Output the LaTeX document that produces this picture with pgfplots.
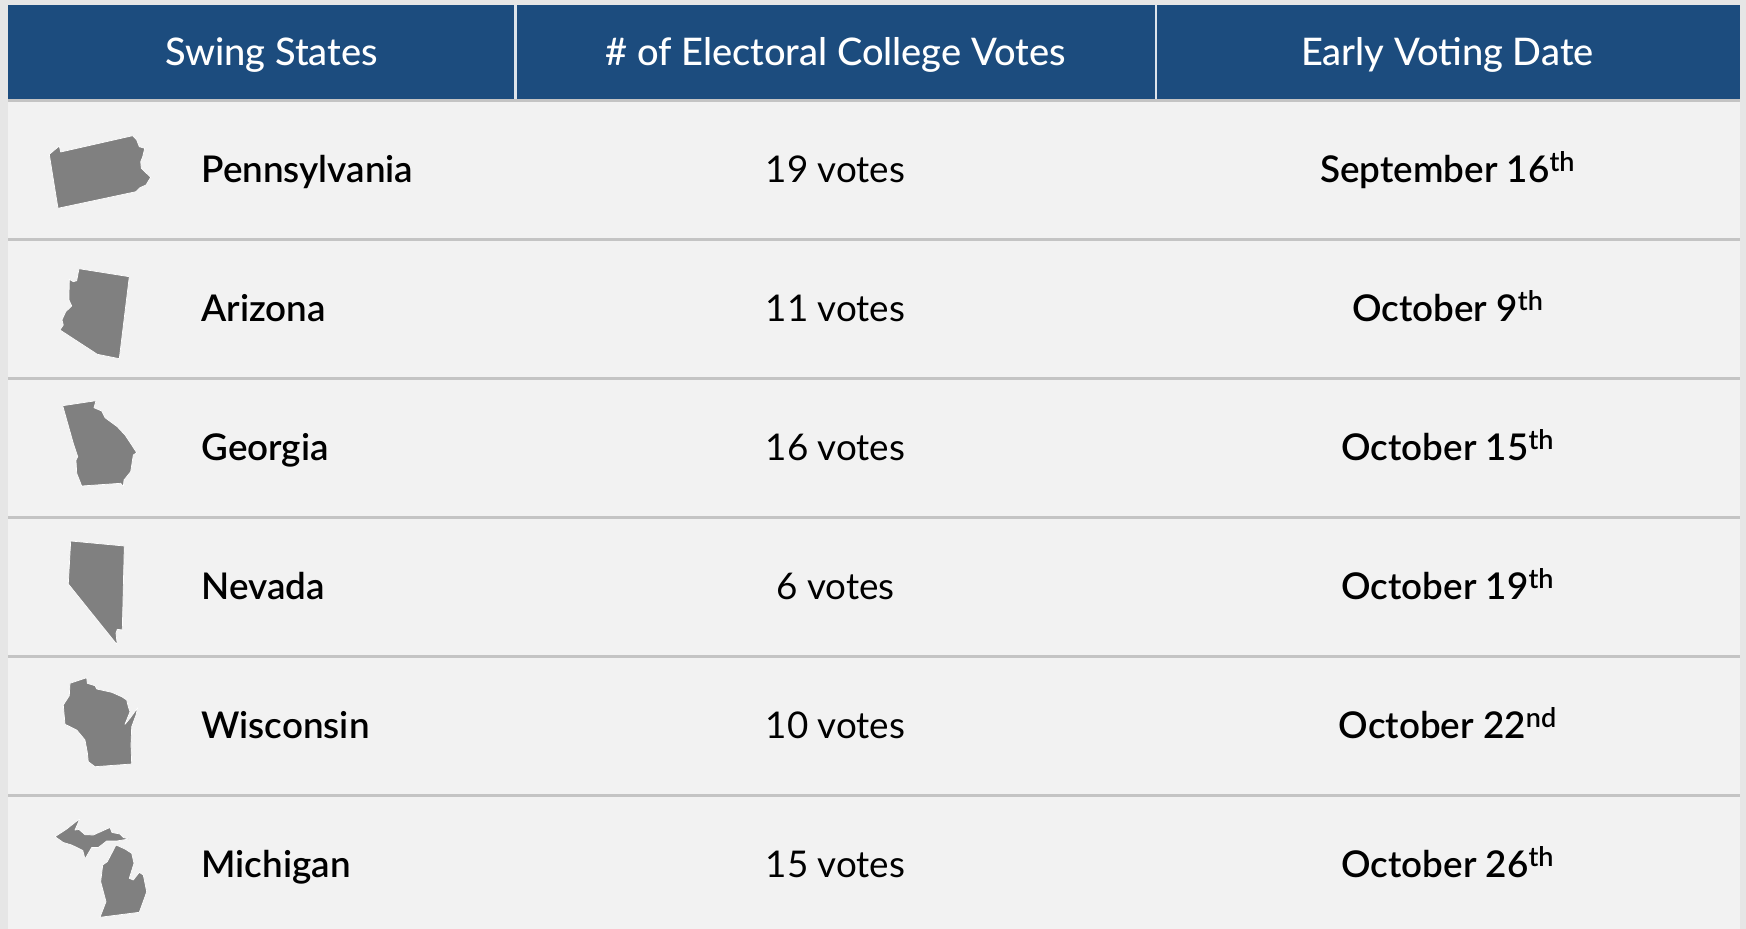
\documentclass[border=0pt]{standalone}
\usepackage{pgfplots}
\usepackage{fontspec}
\pgfplotsset{compat=1.18}
\setmainfont{Lato}
\newfontfamily\namefont{Lato Semibold}
\newfontfamily\headfont{Lato Medium}
\definecolor{headblue}{HTML}{1C4C7E}
\definecolor{pagegrey}{HTML}{E6E6E6}
\definecolor{rowgrey}{HTML}{F2F2F2}
\definecolor{rule}{HTML}{C4C4C4}
\definecolor{shape}{HTML}{808080}
\newcommand{\ord}[1]{\raisebox{0.3em}{\fontsize{13.5}{14}\selectfont #1}}
\pgfplotsset{state/.style={fill=shape,draw=white,line width=0.35pt,line join=round}}
\begin{document}
\begin{tikzpicture}
\begin{axis}[
  scale only axis, width=873pt, height=464.5pt,
  xmin=0, xmax=1746, ymin=0, ymax=929, y dir=reverse,
  axis lines=none, clip=true,
]
% page and table bands
\addplot[fill=pagegrey,draw=none] coordinates {(0,0)(1746,0)(1746,929)(0,929)} -- cycle;
\addplot[fill=rowgrey,draw=none] coordinates {(8,99)(1740,99)(1740,929)(8,929)} -- cycle;
\addplot[fill=headblue,draw=none] coordinates {(8,5)(1740,5)(1740,99)(8,99)} -- cycle;
% rules
\addplot[rule,line width=1.4pt] coordinates {(8,100.5)(1740,100.5)};
\addplot[rule,line width=1.4pt] coordinates {(8,239.7)(1740,239.7)};
\addplot[rule,line width=1.4pt] coordinates {(8,378.7)(1740,378.7)};
\addplot[rule,line width=1.4pt] coordinates {(8,517.7)(1740,517.7)};
\addplot[rule,line width=1.4pt] coordinates {(8,656.7)(1740,656.7)};
\addplot[rule,line width=1.4pt] coordinates {(8,795.7)(1740,795.7)};
\addplot[white!85!headblue,line width=1.2pt] coordinates {(515.5,5)(515.5,99)};
\addplot[white!85!headblue,line width=1.2pt] coordinates {(1156,5)(1156,99)};
% state outlines
\addplot[state] coordinates {(49.3,154.3)(59.3,146)(60.7,152)(132.7,135.7)(136.7,140)(139.3,146.7)(144.7,148.3)(142.7,156.7)(140.7,161.7)(141.3,168.3)(150.7,177.3)(146,185)(140,187.7)(136,191.7)(58,208.3)} -- cycle;
\addplot[state] coordinates {(79,268.7)(129.3,276.7)(119.3,358.7)(97.3,354.3)(60,330)(63.3,325)(62,320)(65.7,311.7)(71.7,306)(69,300)(69.3,279.3)(73.3,281.7)(76.7,280.7)} -- cycle;
\addplot[state] coordinates {(62.7,405.7)(96,400.7)(94,407.7)(101.7,411)(105,417.7)(117.3,426.7)(125,435)(131.7,445)(136.7,452.7)(133.3,455)(130.7,471.7)(124,480)(123.3,486.7)(120.7,483.3)(81.7,486)(76.7,473.3)(76,460)(77.7,456.7)(73.3,443.3)} -- cycle;
\addplot[state] coordinates {(70.7,541)(124.3,546)(122.3,630)(117.3,629.3)(116,633.3)(117.3,645)(68.3,584)} -- cycle;
\addplot[state] coordinates {(70,683.3)(86.7,677.7)(87.3,683.3)(95,685.7)(96.7,689)(111.7,692.3)(121.7,696.7)(126.7,700)(128.3,706.7)(130,711.7)(125,724.3)(130,718.3)(137.7,707.7)(136,715)(131.7,726.7)(131,745)(131.7,764)(95,766.7)(88.3,761.7)(87.3,752.3)(85,740)(76.7,730)(65,724.3)(63.3,705)(69.3,695.7)} -- cycle;
\addplot[state] coordinates {(55,836.7)(66.7,829)(80,818.5)(75,830)(79,829.5)(85,834.7)(93.3,835)(110,827.5)(112,832.5)(120,834)(123.3,837.5)(129,839)(116.7,841)(106.7,841)(98.3,847.5)(91.7,847.5)(85,859)(82.8,850.5)(71.7,845)(63.3,842.5)} -- cycle;
\addplot[state] coordinates {(116,845)(125,849)(131.7,853.3)(134,863.3)(129.3,878.3)(133.3,880)(139.3,872.3)(143.3,875)(146.7,891.7)(145,896.7)(139.3,912.3)(100,917.3)(106,901.7)(100.7,881.7)(102.7,865)(107.3,861.7)(111.7,853.3)} -- cycle;
% header
\begin{scope}[every node/.append style={font=\fontsize{19}{22}\selectfont}]
\node[anchor=base,white] at (axis cs:271.5,65.5) {\headfont Swing States};
\node[anchor=base,white] at (axis cs:835.5,65.5) {\headfont \# of Electoral College Votes};
\node[anchor=base,white] at (axis cs:1447.5,65.5) {\headfont Early Voting Date};
\end{scope}
\begin{scope}[every node/.append style={inner sep=0pt,font=\fontsize{18.4}{22}\selectfont}]
% state names
\node[anchor=base west] at (axis cs:201,182.5) {\namefont Pennsylvania};
\node[anchor=base west] at (axis cs:201,321.5) {\namefont Arizona};
\node[anchor=base west] at (axis cs:201,460.5) {\namefont Georgia};
\node[anchor=base west] at (axis cs:201,599.5) {\namefont Nevada};
\node[anchor=base west] at (axis cs:201,738.5) {\namefont Wisconsin};
\node[anchor=base west] at (axis cs:201,877.5) {\namefont Michigan};
% vote counts
\node[anchor=base] at (axis cs:835.5,182.5) {19 votes};
\node[anchor=base] at (axis cs:835.5,321.5) {11 votes};
\node[anchor=base] at (axis cs:835.5,460.5) {16 votes};
\node[anchor=base] at (axis cs:835.5,599.5) {6 votes};
\node[anchor=base] at (axis cs:835.5,738.5) {10 votes};
\node[anchor=base] at (axis cs:835.5,877.5) {15 votes};
% early voting dates
\node[anchor=base] at (axis cs:1447.5,182.5) {\namefont September 16\ord{th}};
\node[anchor=base] at (axis cs:1447.5,321.5) {\namefont October 9\ord{th}};
\node[anchor=base] at (axis cs:1447.5,460.5) {\namefont October 15\ord{th}};
\node[anchor=base] at (axis cs:1447.5,599.5) {\namefont October 19\ord{th}};
\node[anchor=base] at (axis cs:1447.5,738.5) {\namefont October 22\ord{nd}};
\node[anchor=base] at (axis cs:1447.5,877.5) {\namefont October 26\ord{th}};
\end{scope}
\end{axis}
\end{tikzpicture}
\end{document}
